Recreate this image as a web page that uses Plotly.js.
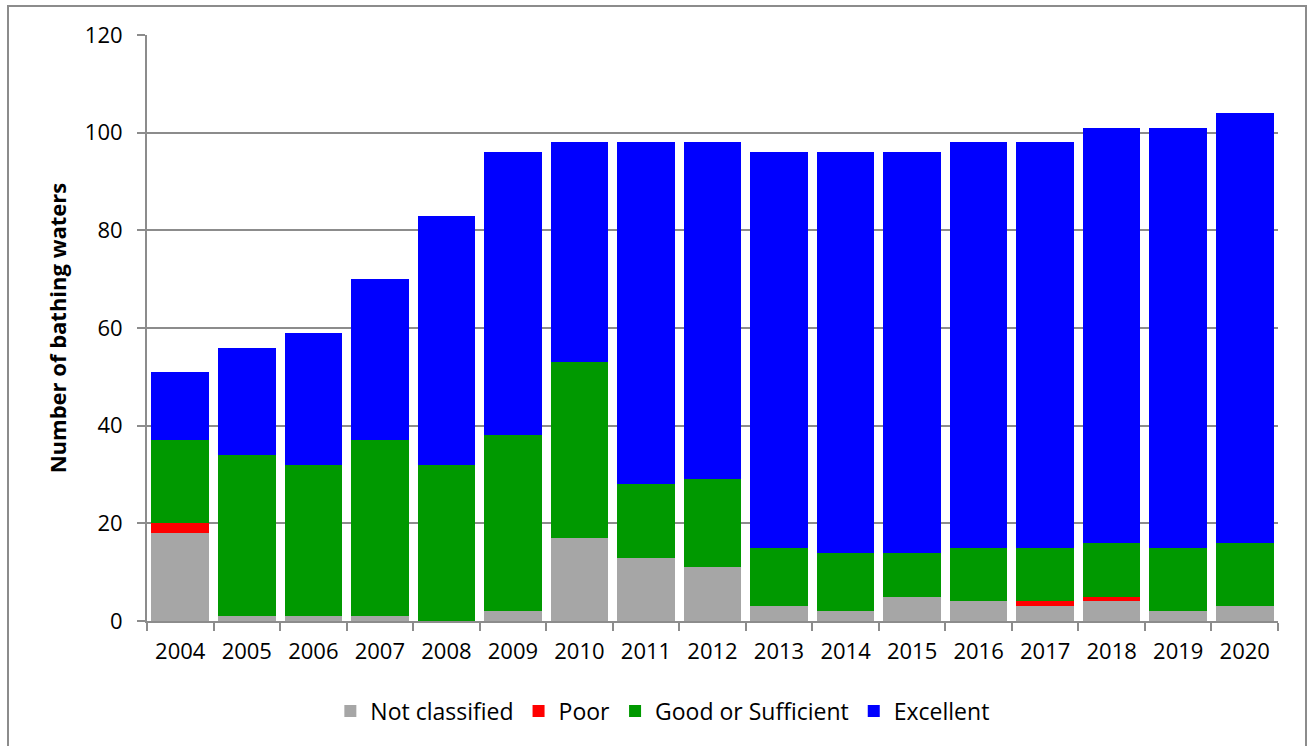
<!DOCTYPE html>
<html>
<head>
<meta charset="utf-8">
<script src="https://cdn.plot.ly/plotly-3.0.1.min.js"></script>
<style>
  html, body { margin: 0; padding: 0; background: #fff; overflow: hidden; width: 1309px; height: 746px; }
  #chart { width: 1309px; height: 746px; }
  #frame { position: absolute; left: 7px; top: 5px; width: 1300px; height: 760px;
           border: 2px solid #8c8c8c; pointer-events: none; box-sizing: border-box; }
</style>
</head>
<body>
<div id="chart"></div>
<div id="frame"></div>
<script>
const years = ['2004','2005','2006','2007','2008','2009','2010','2011','2012','2013','2014','2015','2016','2017','2018','2019','2020'];
const notClassified = [18, 1, 1, 1, 0, 2, 17, 13, 11, 3, 2, 5, 4, 3, 4, 2, 3];
const poor          = [2, 0, 0, 0, 0, 0, 0, 0, 0, 0, 0, 0, 0, 1, 1, 0, 0];
const goodOrSufficient = [17, 33, 31, 36, 32, 36, 36, 15, 18, 12, 12, 9, 11, 11, 11, 13, 13];
const excellent     = [14, 22, 27, 33, 51, 58, 45, 70, 69, 81, 82, 82, 83, 83, 85, 86, 88];
const yTicks = [0, 20, 40, 60, 80, 100, 120];

const font = "'Open Sans', 'Noto Sans', sans-serif";

function bar(name, vals, color) {
  return { type: 'bar', name: name, x: years, y: vals,
           marker: { color: color, line: { width: 0 } }, hoverinfo: 'x+y+name' };
}

const data = [
  bar('Not classified', notClassified, '#A6A6A6'),
  bar('Poor', poor, '#FF0000'),
  bar('Good or Sufficient', goodOrSufficient, '#009900'),
  bar('Excellent', excellent, '#0000FF')
];

const layout = {
  width: 1309, height: 746,
  margin: { l: 147, r: 31, t: 35, b: 125, autoexpand: false },
  paper_bgcolor: '#fff', plot_bgcolor: '#fff',
  barmode: 'stack', bargap: 0.135,
  font: { family: font, size: 22, color: '#000' },
  xaxis: {
    type: 'category', tickson: 'boundaries', ticks: 'outside', ticklen: 8,
    tickcolor: '#8c8c8c', tickwidth: 2,
    showline: true, linecolor: '#8c8c8c', linewidth: 2,
    showgrid: false, tickfont: { size: 22, family: font }, ticklabelstandoff: 10
  },
  yaxis: {
    range: [0, 120], tickvals: yTicks, ticktext: yTicks.map(String),
    ticks: 'outside', ticklen: 8, tickcolor: '#8c8c8c', tickwidth: 2,
    showline: true, linecolor: '#8c8c8c', linewidth: 2,
    showgrid: true, gridcolor: '#8c8c8c', gridwidth: 2, zeroline: false,
    tickfont: { size: 22, family: font }, ticklabelstandoff: 10,
    title: { text: '<b>Number of bathing waters</b>', font: { size: 22, family: font }, standoff: 12 }
  },
  legend: {
    orientation: 'h', xref: 'container', yref: 'container',
    x: 0.506, xanchor: 'center', y: 0.047, yanchor: 'middle',
    font: { size: 23, family: font }, traceorder: 'normal',
    itemwidth: 30
  },
  showlegend: true
};

Plotly.newPlot('chart', data, layout, { displayModeBar: false, staticPlot: true });
</script>
</body>
</html>
